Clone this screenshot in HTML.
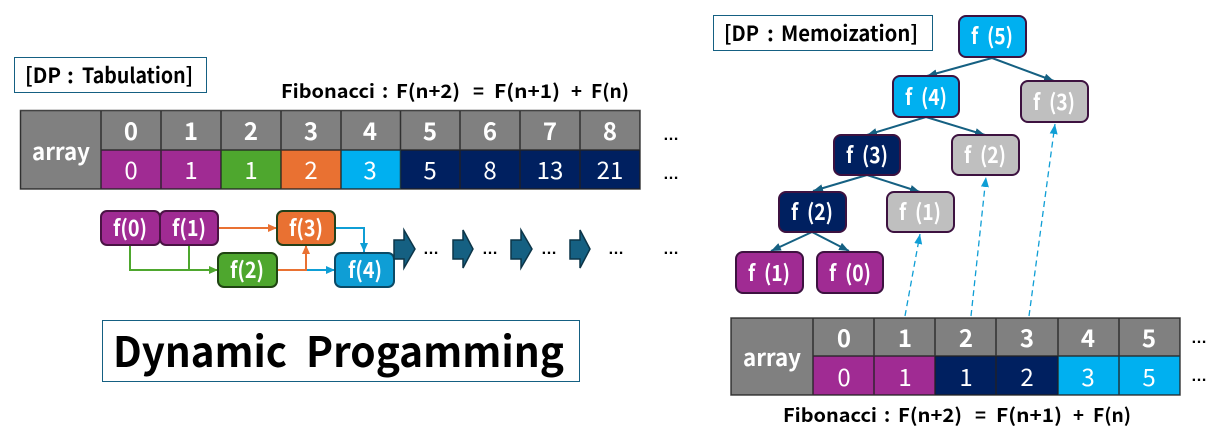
<!DOCTYPE html>
<html><head><meta charset="utf-8"><style>
html,body{margin:0;padding:0;background:#fff;width:1220px;height:444px;overflow:hidden}
svg{display:block}
text{font-family:"Noto Sans CJK KR","Liberation Sans",sans-serif}
.b{font-weight:700}
.h{font-size:24px;font-weight:700;fill:#fff;text-anchor:middle}
.v{font-size:24px;font-weight:400;fill:#fff;text-anchor:middle}
.n{font-size:22px;font-weight:700;fill:#fff;text-anchor:middle}
.k{font-size:22px;font-weight:700;fill:#fff;text-anchor:middle;word-spacing:5px}
.t{font-size:23px;font-weight:700;fill:#fff;text-anchor:middle}
.d{font-family:"Liberation Sans",sans-serif;font-size:16px;font-weight:700;fill:#000;text-anchor:middle}
.f{font-size:19px;font-weight:700;fill:#000}
.l{font-size:21px;font-weight:700;fill:#000}
</style></head><body>
<svg width="1220" height="444" viewBox="0 0 1220 444" xmlns="http://www.w3.org/2000/svg">
<defs>
<marker id="tree" markerUnits="userSpaceOnUse" markerWidth="12" markerHeight="10" refX="10" refY="4" orient="auto"><path d="M0 0L10 4L0 8z" fill="#156082"/></marker>
<marker id="dash" markerUnits="userSpaceOnUse" markerWidth="12" markerHeight="10" refX="10" refY="4" orient="auto"><path d="M0 0L10 4L0 8z" fill="#0f9ed5"/></marker>
<marker id="gr" markerUnits="userSpaceOnUse" markerWidth="12" markerHeight="10" refX="9" refY="4" orient="auto"><path d="M0 0L9 4L0 8z" fill="#4ea72e"/></marker>
<marker id="or" markerUnits="userSpaceOnUse" markerWidth="12" markerHeight="10" refX="9" refY="4" orient="auto"><path d="M0 0L9 4L0 8z" fill="#e97132"/></marker>
<marker id="bl" markerUnits="userSpaceOnUse" markerWidth="12" markerHeight="10" refX="9" refY="4" orient="auto"><path d="M0 0L9 4L0 8z" fill="#0f9ed5"/></marker>
</defs>

<!-- labels -->
<rect x="14.500" y="57.500" width="192" height="35" fill="#fff" stroke="#156082"/>
<text class="l" x="25" y="83" textLength="36" lengthAdjust="spacingAndGlyphs">[DP</text>
<text class="l" x="67" y="83">:</text>
<text class="l" x="82" y="83" textLength="111" lengthAdjust="spacingAndGlyphs">Tabulation]</text>

<rect x="713.500" y="15.500" width="219" height="35" fill="#fff" stroke="#156082"/>
<text class="l" x="724" y="41" textLength="35" lengthAdjust="spacingAndGlyphs">[DP</text>
<text class="l" x="767" y="41">:</text>
<text class="l" x="781" y="41" textLength="137" lengthAdjust="spacingAndGlyphs">Memoization]</text>

<rect x="102.500" y="320.500" width="477" height="61" fill="#fff" stroke="#156082"/>
<text class="b" x="113" y="367" font-size="42" textLength="174" lengthAdjust="spacingAndGlyphs">Dynamic</text>
<text class="b" x="306" y="367" font-size="42" textLength="258" lengthAdjust="spacingAndGlyphs">Progamming</text>

<g>
<text class="f" x="783" y="422" textLength="94" lengthAdjust="spacingAndGlyphs">Fibonacci</text>
<text class="f" x="884" y="422">:</text>
<text class="f" x="898" y="422" textLength="64" lengthAdjust="spacingAndGlyphs">F(n+2)</text>
<text class="f" x="975" y="422" textLength="11" lengthAdjust="spacingAndGlyphs">=</text>
<text class="f" x="996" y="422" textLength="66" lengthAdjust="spacingAndGlyphs">F(n+1)</text>
<text class="f" x="1073" y="422" textLength="11" lengthAdjust="spacingAndGlyphs">+</text>
<text class="f" x="1093" y="422" textLength="38" lengthAdjust="spacingAndGlyphs">F(n)</text>
</g>
<g transform="translate(-502,-324)">
<text class="f" x="783" y="422" textLength="94" lengthAdjust="spacingAndGlyphs">Fibonacci</text>
<text class="f" x="884" y="422">:</text>
<text class="f" x="898" y="422" textLength="64" lengthAdjust="spacingAndGlyphs">F(n+2)</text>
<text class="f" x="975" y="422" textLength="11" lengthAdjust="spacingAndGlyphs">=</text>
<text class="f" x="996" y="422" textLength="66" lengthAdjust="spacingAndGlyphs">F(n+1)</text>
<text class="f" x="1073" y="422" textLength="11" lengthAdjust="spacingAndGlyphs">+</text>
<text class="f" x="1093" y="422" textLength="38" lengthAdjust="spacingAndGlyphs">F(n)</text>
</g>

<!-- left table -->
<rect x="20" y="111" width="620" height="78" fill="#808080"/>
<rect x="101" y="150" width="120" height="39" fill="#a02b93"/>
<rect x="221" y="150" width="60" height="39" fill="#4ea72e"/>
<rect x="281" y="150" width="60" height="39" fill="#e97132"/>
<rect x="341" y="150" width="60" height="39" fill="#00b0f0"/>
<rect x="401" y="150" width="239" height="39" fill="#002060"/>
<path d="M20.500 110.500H640V189H20.500zM101 111V189M161 111V189M221 111V189M281 111V189M341 111V189M400.500 111V189M460 111V189M520 111V189M580 111V189M101 150H640" fill="none" stroke="#222" stroke-width="1.500" opacity=".85"/>
<text class="t" x="61" y="160" textLength="58" lengthAdjust="spacingAndGlyphs">array</text>
<text class="h" x="131" y="140">0</text><text class="h" x="191" y="140">1</text><text class="h" x="251" y="140">2</text><text class="h" x="311" y="140">3</text><text class="h" x="370" y="140">4</text><text class="h" x="430" y="140">5</text><text class="h" x="490" y="140">6</text><text class="h" x="550" y="140">7</text><text class="h" x="610" y="140">8</text>
<text class="v" x="131" y="179">0</text><text class="v" x="191" y="179">1</text><text class="v" x="251" y="179">1</text><text class="v" x="311" y="179">2</text><text class="v" x="370" y="179">3</text><text class="v" x="430" y="179">5</text><text class="v" x="490" y="179">8</text><text class="v" x="550" y="179">13</text><text class="v" x="610" y="179">21</text>
<text class="d" x="671" y="140">…</text><text class="d" x="671" y="179">…</text>

<!-- left flow connectors -->
<path d="M130 245V270H218" fill="none" stroke="#4ea72e" stroke-width="2" marker-end="url(#gr)"/>
<path d="M189 245V270" fill="none" stroke="#4ea72e" stroke-width="2"/>
<path d="M218 228H277" fill="none" stroke="#e97132" stroke-width="2" marker-end="url(#or)"/>
<path d="M335 228H364V252" fill="none" stroke="#0f9ed5" stroke-width="2" marker-end="url(#bl)"/>
<path d="M306 270H335" fill="none" stroke="#0f9ed5" stroke-width="2" marker-end="url(#bl)"/>
<path d="M277 270H306V245" fill="none" stroke="#e97132" stroke-width="2" marker-end="url(#or)"/>

<!-- left nodes -->
<rect x="101" y="211" width="59" height="34" rx="6" fill="#a02b93" stroke="#4a1344" stroke-width="2"/>
<rect x="160" y="211" width="58" height="34" rx="6" fill="#a02b93" stroke="#4a1344" stroke-width="2"/>
<rect x="277" y="211" width="58" height="34" rx="6" fill="#e97132" stroke="#24401a" stroke-width="2"/>
<rect x="218" y="253" width="59" height="34" rx="6" fill="#4ea72e" stroke="#1f4412" stroke-width="2"/>
<rect x="335" y="253" width="59" height="34" rx="6" fill="#0f9ed5" stroke="#0b4a66" stroke-width="2"/>
<text class="n" x="130" y="236" textLength="34" lengthAdjust="spacingAndGlyphs">f(0)</text>
<text class="n" x="189" y="236" textLength="34" lengthAdjust="spacingAndGlyphs">f(1)</text>
<text class="n" x="306" y="236" textLength="34" lengthAdjust="spacingAndGlyphs">f(3)</text>
<text class="n" x="247" y="278" textLength="34" lengthAdjust="spacingAndGlyphs">f(2)</text>
<text class="n" x="365" y="278" textLength="34" lengthAdjust="spacingAndGlyphs">f(4)</text>

<!-- chevrons -->
<g fill="#156082" stroke="#0c3548" stroke-width="1.500">
<path d="M394 240H404V230L415 249L404 268V259H394z"/>
<path d="M453 240H463V230L473 249L463 268V259H453z"/>
<path d="M511 240H521V230L532 249L521 268V259H511z"/>
<path d="M570 240H580V230L590 249L580 268V259H570z"/>
</g>
<text class="d" x="431" y="254">…</text><text class="d" x="490" y="254">…</text><text class="d" x="549" y="254">…</text><text class="d" x="616" y="254">…</text><text class="d" x="671" y="254">…</text>

<!-- tree connectors -->
<g stroke="#156082" stroke-width="2" fill="none">
<path d="M992 58L927 76" marker-end="url(#tree)"/>
<path d="M992 58L1054 81" marker-end="url(#tree)"/>
<path d="M926 117L867 135" marker-end="url(#tree)"/>
<path d="M926 117L985 135" marker-end="url(#tree)"/>
<path d="M867 175L813 191" marker-end="url(#tree)"/>
<path d="M867 175L920 192" marker-end="url(#tree)"/>
<path d="M812 232L771 251" marker-end="url(#tree)"/>
<path d="M812 232L849 251" marker-end="url(#tree)"/>
</g>
<!-- dashed -->
<g stroke="#0f9ed5" stroke-width="1.300" fill="none" stroke-dasharray="6 4">
<path d="M905 316L920 234" marker-end="url(#dash)"/>
<path d="M971 316L986 177" marker-end="url(#dash)"/>
<path d="M1029 316L1055 124" marker-end="url(#dash)"/>
</g>

<!-- tree nodes -->
<g stroke="#3d1240" stroke-width="2">
<rect x="959" y="16" width="67" height="41" rx="7" fill="#00b0f0"/>
<rect x="893" y="76" width="66" height="41" rx="7" fill="#00b0f0"/>
<rect x="1021" y="81" width="67" height="41" rx="7" fill="#bfbfbf"/>
<rect x="834" y="135" width="66" height="40" rx="7" fill="#002060"/>
<rect x="952" y="135" width="67" height="40" rx="7" fill="#bfbfbf"/>
<rect x="779" y="192" width="67" height="40" rx="7" fill="#002060"/>
<rect x="887" y="192" width="67" height="40" rx="7" fill="#bfbfbf"/>
<rect x="736" y="252" width="67" height="41" rx="7" fill="#a02b93"/>
<rect x="817" y="252" width="66" height="41" rx="7" fill="#a02b93"/>
</g>
<text class="k" x="992" y="44" textLength="42" lengthAdjust="spacingAndGlyphs">f (5)</text>
<text class="k" x="926" y="105" textLength="42" lengthAdjust="spacingAndGlyphs">f (4)</text>
<text class="k" x="1054" y="110" textLength="42" lengthAdjust="spacingAndGlyphs">f (3)</text>
<text class="k" x="867" y="163" textLength="42" lengthAdjust="spacingAndGlyphs">f (3)</text>
<text class="k" x="985" y="163" textLength="42" lengthAdjust="spacingAndGlyphs">f (2)</text>
<text class="k" x="812" y="220" textLength="42" lengthAdjust="spacingAndGlyphs">f (2)</text>
<text class="k" x="920" y="220" textLength="42" lengthAdjust="spacingAndGlyphs">f (1)</text>
<text class="k" x="769" y="281" textLength="42" lengthAdjust="spacingAndGlyphs">f (1)</text>
<text class="k" x="850" y="281" textLength="42" lengthAdjust="spacingAndGlyphs">f (0)</text>

<!-- right table -->
<rect x="731" y="318" width="449" height="77" fill="#808080"/>
<rect x="813" y="356" width="122" height="39" fill="#a02b93"/>
<rect x="935" y="356" width="123" height="39" fill="#002060"/>
<rect x="1058" y="356" width="122" height="39" fill="#00b0f0"/>
<path d="M731 318H1180V395H731zM813 318V395M874 318V395M935 318V395M996 318V395M1058 318V395M1119 318V395M813 356H1180" fill="none" stroke="#222" stroke-width="1.500" opacity=".85"/>
<text class="t" x="772" y="366" textLength="58" lengthAdjust="spacingAndGlyphs">array</text>
<text class="h" x="844" y="347">0</text><text class="h" x="905" y="347">1</text><text class="h" x="966" y="347">2</text><text class="h" x="1027" y="347">3</text><text class="h" x="1088" y="347">4</text><text class="h" x="1149" y="347">5</text>
<text class="v" x="844" y="386">0</text><text class="v" x="905" y="386">1</text><text class="v" x="966" y="386">1</text><text class="v" x="1027" y="386">2</text><text class="v" x="1088" y="386">3</text><text class="v" x="1149" y="386">5</text>
<text class="d" x="1199" y="343">…</text><text class="d" x="1199" y="381">…</text>
</svg>
</body></html>
